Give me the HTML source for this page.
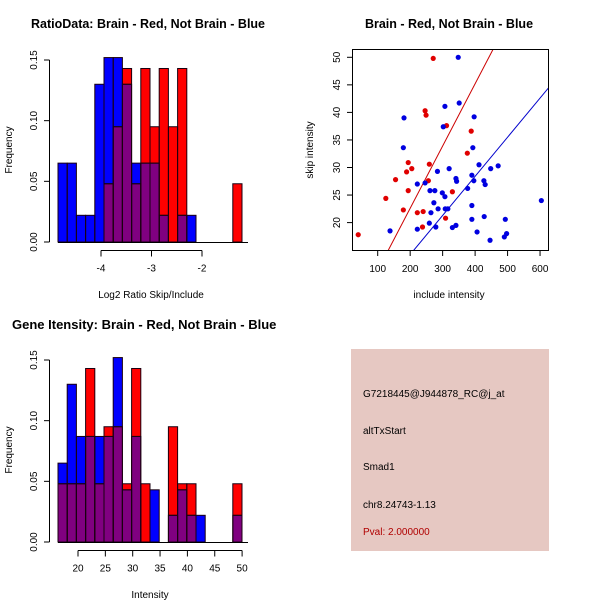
<!DOCTYPE html>
<html><head><meta charset="utf-8"><style>
html,body{margin:0;padding:0;background:#fff}
svg{display:block;font-family:"Liberation Sans",sans-serif}
</style></head><body>
<svg id="s" width="600" height="600" xmlns="http://www.w3.org/2000/svg">
<rect width="600" height="600" fill="#fff"/>
<text x="148" y="28" font-size="12.5" font-weight="bold" text-anchor="middle">RatioData: Brain - Red, Not Brain - Blue</text>
<text x="449" y="28" font-size="12.5" font-weight="bold" text-anchor="middle">Brain - Red, Not Brain - Blue</text>
<text x="12" y="329" font-size="13" font-weight="bold">Gene Itensity: Brain - Red, Not Brain - Blue</text>
<text x="151" y="298" font-size="10" text-anchor="middle">Log2 Ratio Skip/Include</text>
<text x="150" y="598" font-size="10" text-anchor="middle">Intensity</text>
<text x="449" y="298" font-size="10" text-anchor="middle">include intensity</text>
<text transform="translate(12,150) rotate(-90)" font-size="10" text-anchor="middle">Frequency</text>
<text transform="translate(12,450) rotate(-90)" font-size="10" text-anchor="middle">Frequency</text>
<text transform="translate(313,150) rotate(-90)" font-size="10" text-anchor="middle">skip intensity</text>
<rect x="351" y="349" width="198" height="202" fill="#e6c8c2"/>
<text x="363" y="397" font-size="10">G7218445@J944878_RC@j_at</text>
<text x="363" y="434" font-size="10">altTxStart</text>
<text x="363" y="470" font-size="10">Smad1</text>
<text x="363" y="508" font-size="10">chr8.24743-1.13</text>
<text x="363" y="535" font-size="10" fill="#b00000">Pval: 2.000000</text>
<g id="g1"></g><g id="g2"></g><g id="g3"></g>
</svg>
<script>
// Ratio histogram (20 bins)
const ratioBlue=[.065,.065,.022,.022,.13,.152,.152,.13,.065,.065,.065,.022,0,.022,.022,0,0,0,0,0];
const ratioRed=[0,0,0,0,0,.048,.095,.143,.048,.143,.095,.143,.095,.143,0,0,0,0,0,.048];
const ratioTicks=[-4,-3,-2];
// Intensity histogram (20 bins)
const intBlue=[.065,.13,.087,.087,.087,.087,.152,.043,.087,0,.043,0,.022,.043,.022,.022,0,0,0,.022];
const intRed=[.048,.048,.048,.143,.048,.095,.095,.048,.143,.048,0,0,.095,.048,.048,0,0,0,0,.048];
const intTicks=[20,25,30,35,40,45,50];
const freqTicks=[0,0.05,0.10,0.15];
const freqLabels=["0.00","0.05","0.10","0.15"];
// Scatter
const redX=[40,125,155,179,189,194,194,205,222,238,240,246,249,256,259,271,309,312,330,376,388];
const redY=[17.8,24.4,27.8,22.3,29.2,30.9,25.8,29.8,21.8,19.2,22.0,40.3,39.5,27.6,30.6,49.8,20.8,37.6,25.6,32.6,36.6];
const blueX=[138,181,179,222,222,246,259,261,264,273,276,279,284,286,299,302,307,307,308,316,320,330,341,341,343,348,351,377,390,390,390,393,396,397,406,412,427,428,431,446,448,471,490,493,497,604];
const blueY=[18.5,39.0,33.6,27.0,18.8,27.2,19.9,25.8,21.8,23.6,25.8,19.2,29.3,22.5,25.4,37.4,41.1,24.7,22.5,22.5,29.8,19.1,19.5,28.0,27.5,50.0,41.7,26.2,28.6,23.1,20.6,33.6,27.6,39.2,18.3,30.5,27.6,21.1,26.9,16.8,29.8,30.3,17.4,20.6,18.0,24.0];
const slopes=[0.113,0.071];
const sxTicks=[100,200,300,400,500,600];
const syTicks=[20,25,30,35,40,45,50];

const NS="http://www.w3.org/2000/svg";
function mk(p,t,a){const e=document.createElementNS(NS,t);for(const k in a)e.setAttribute(k,a[k]);p.appendChild(e);return e;}

function hist(gid,blue,red,ticks,y0,bx0,bx1,axY,tickX){
  const g=document.getElementById(gid);
  const yS=v=>y0-v*(182/0.15);
  const bw=(bx1-bx0)/blue.length;
  const outlines=[];
  for(let i=0;i<blue.length;i++){
    const x=bx0+i*bw;
    const b=blue[i],r=red[i],m=Math.min(b,r);
    if(b>0){const e=mk(g,'rect',{x:x,y:yS(b),width:bw,height:y0-yS(b),fill:'#0000ff'});
      outlines.push([x,b]);}
    if(r>0){const e=mk(g,'rect',{x:x,y:yS(r),width:bw,height:y0-yS(r),fill:'#ff0000'});
      outlines.push([x,r]);}
    if(m>0){const e=mk(g,'rect',{x:x,y:yS(m),width:bw,height:y0-yS(m),fill:'#800080'});
      }
  }
  outlines.forEach(o=>{mk(g,'rect',{x:o[0],y:yS(o[1]),width:bw,height:y0-yS(o[1]),fill:'none',stroke:'#1a0010','stroke-width':1});});
  for(let i=0;i<blue.length;i++){const m=Math.min(blue[i],red[i]);
    if(m>0) mk(g,'line',{x1:bx0+i*bw,y1:yS(m),x2:bx0+(i+1)*bw,y2:yS(m),stroke:'#1a0010'});}
  mk(g,'line',{x1:bx0,y1:y0+0.5,x2:bx1+6,y2:y0+0.5,stroke:'#000'});
  const ya=mk(g,'line',{x1:49.5,y1:yS(0),x2:49.5,y2:yS(0.15),stroke:'#000'});
  
  freqTicks.forEach((v,i)=>{
    mk(g,'line',{x1:44,y1:yS(v),x2:49.5,y2:yS(v),stroke:'#000'});
    const t=mk(g,'text',{transform:`translate(37,${yS(v)}) rotate(-90)`,'font-size':10,'text-anchor':'middle'});
    t.textContent=freqLabels[i];
    
  });
  const xs=tickX;
  const xa=mk(g,'line',{x1:xs(ticks[0]),y1:axY,x2:xs(ticks[ticks.length-1]),y2:axY,stroke:'#000'});
  
  ticks.forEach(v=>{
    mk(g,'line',{x1:xs(v),y1:axY,x2:xs(v),y2:axY+6,stroke:'#000'});
    const t=mk(g,'text',{x:xs(v),y:axY+21,'font-size':10,'text-anchor':'middle'});
    t.textContent=v;
    
  });
}
hist('g1',ratioBlue,ratioRed,ratioTicks,242,58,242,250.5,v=>101+(v+4)*50.5);
hist('g3',intBlue,intRed,intTicks,542,58,242,550.5,v=>78+(v-20)*5.47);

(function(){
  const g=document.getElementById('g2');
  const X=v=>377.7+(v-100)*0.3247, Y=v=>57.3+(50-v)*5.51;
  const box=mk(g,'rect',{x:352.5,y:49.5,width:196,height:201,fill:'none',stroke:'#000'});
  
  mk(g,'clipPath',{id:'cp'}).appendChild(document.createElementNS(NS,'rect'));
  const cr=g.querySelector('#cp rect');cr.setAttribute('x',353);cr.setAttribute('y',50);cr.setAttribute('width',195);cr.setAttribute('height',200);
  sxTicks.forEach(v=>{
    mk(g,'line',{x1:X(v),y1:250.5,x2:X(v),y2:256,stroke:'#000'});
    const t=mk(g,'text',{x:X(v),y:272,'font-size':10,'text-anchor':'middle'});t.textContent=v;
    
  });
  syTicks.forEach(v=>{
    mk(g,'line',{x1:347,y1:Y(v),x2:352.5,y2:Y(v),stroke:'#000'});
    const t=mk(g,'text',{transform:`translate(340,${Y(v)}) rotate(-90)`,'font-size':10,'text-anchor':'middle'});t.textContent=v;
    
  });
  const cols=['#cc0000','#0000cc'];
  slopes.forEach((s,i)=>{
    const l=mk(g,'line',{x1:X(0),y1:Y(0),x2:X(700),y2:Y(700*s),stroke:cols[i],'clip-path':'url(#cp)'});
    
  });
  redX.forEach((v,i)=>{const c=mk(g,'circle',{cx:X(v),cy:Y(redY[i]),r:2.6,fill:'#e00000'});
    });
  blueX.forEach((v,i)=>{const c=mk(g,'circle',{cx:X(v),cy:Y(blueY[i]),r:2.6,fill:'#0000e0'});
    });
})();
</script>
</body></html>
